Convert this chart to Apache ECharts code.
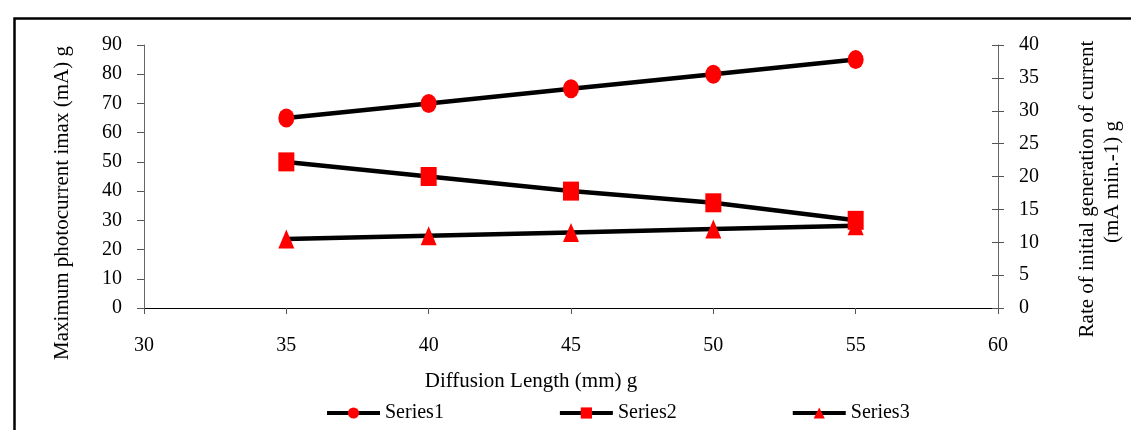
<!DOCTYPE html>
<html>
<head>
<meta charset="utf-8">
<script src="https://cdn.jsdelivr.net/npm/echarts@6/dist/echarts.min.js"></script>
<style>
html,body{margin:0;padding:0;background:#fff;}
#c{width:1131px;height:430px;}
</style>
</head>
<body>
<div id="c"></div>
<script>
const xValues = [35, 40, 45, 50, 55];
const series1 = [65, 70, 75, 80, 85];
const series2 = [50, 45, 40, 36, 30];
const series3 = [10.5, 11, 11.5, 12, 12.5];
const seriesNames = ['Series1', 'Series2', 'Series3'];
const xTitle = 'Diffusion Length (mm) g';
const yLeftTitle = 'Maximum photocurrent imax (mA) g';
const yRightTitle1 = 'Rate of initial generation of current';
const yRightTitle2 = '(mA min.-1) g';

const FONT = '"Liberation Serif", "Times New Roman", serif';
const chart = echarts.init(document.getElementById('c'), null, {renderer: 'canvas'});
const pairs = arr => xValues.map((x, i) => [x, arr[i]]);
const SYM = [16, 19];
function mkSeries(name, data, symbol, yIdx) {
  return {
    name: name, type: 'line', yAxisIndex: yIdx, data: pairs(data),
    symbol: symbol, symbolSize: SYM,
    lineStyle: {color: '#000', width: 4.5},
    itemStyle: {color: '#ff0000'},
    animation: false, z: 3
  };
}
const yLabel = {color: '#000', fontFamily: FONT, fontSize: 20};
chart.setOption({
  animation: false,
  grid: {left: 144, right: 133, top: 45, bottom: 122},
  xAxis: {
    type: 'value', min: 30, max: 60, interval: 5,
    axisLine: {lineStyle: {color: '#000', width: 1}},
    axisTick: {show: true, inside: false, length: 6, lineStyle: {color: '#555'}},
    axisLabel: {color: '#000', fontFamily: FONT, fontSize: 20, margin: 28},
    splitLine: {show: false}
  },
  yAxis: [
    {
      type: 'value', min: 0, max: 90, interval: 10, position: 'left',
      axisLine: {show: true, lineStyle: {color: '#666', width: 1}},
      axisTick: {show: true, inside: false, length: 7, lineStyle: {color: '#555'}},
      axisLabel: Object.assign({margin: 22}, yLabel),
      splitLine: {show: false}
    },
    {
      type: 'value', min: 0, max: 40, interval: 5, position: 'right',
      axisLine: {show: true, lineStyle: {color: '#666', width: 1}},
      axisTick: {show: true, inside: false, length: 6, lineStyle: {color: '#555'}},
      axisLabel: Object.assign({margin: 21}, yLabel),
      splitLine: {show: false}
    },
    {
      type: 'value', min: 0, max: 40, interval: 5, position: 'right',
      axisLine: {show: false},
      axisTick: {show: true, inside: true, length: 6, lineStyle: {color: '#555'}},
      axisLabel: {show: false},
      splitLine: {show: false}
    }
  ],
  legend: {
    data: seriesNames, left: 320, top: 398, itemWidth: 53, itemHeight: 14, itemGap: 114,
    selectedMode: false,
    lineStyle: {width: 4},
    textStyle: {color: '#000', fontFamily: FONT, fontSize: 20, padding: [0, 0, 0, 0]}
  },
  graphic: [
    {type: 'rect', left: 12, top: 16, shape: {x: 0, y: 0, width: 1200, height: 600},
      style: {fill: 'none', stroke: '#000', lineWidth: 2.5}, silent: true, z: -1},
    {type: 'text', x: 531, y: 381, style: {text: xTitle, font: '21px ' + FONT, fill: '#000', textAlign: 'center', textVerticalAlign: 'middle'}},
    {type: 'text', x: 62, y: 203, rotation: Math.PI / 2, style: {text: yLeftTitle, font: '21px ' + FONT, fill: '#000', textAlign: 'center', textVerticalAlign: 'middle'}},
    {type: 'text', x: 1087, y: 189, rotation: Math.PI / 2, style: {text: yRightTitle1, font: '21px ' + FONT, fill: '#000', textAlign: 'center', textVerticalAlign: 'middle'}},
    {type: 'text', x: 1112, y: 182, rotation: Math.PI / 2, style: {text: yRightTitle2, font: '21px ' + FONT, fill: '#000', textAlign: 'center', textVerticalAlign: 'middle'}}
  ],
  series: [
    mkSeries(seriesNames[0], series1, 'circle', 0),
    mkSeries(seriesNames[1], series2, 'rect', 0),
    mkSeries(seriesNames[2], series3, 'triangle', 1)
  ]
});
</script>
</body>
</html>
